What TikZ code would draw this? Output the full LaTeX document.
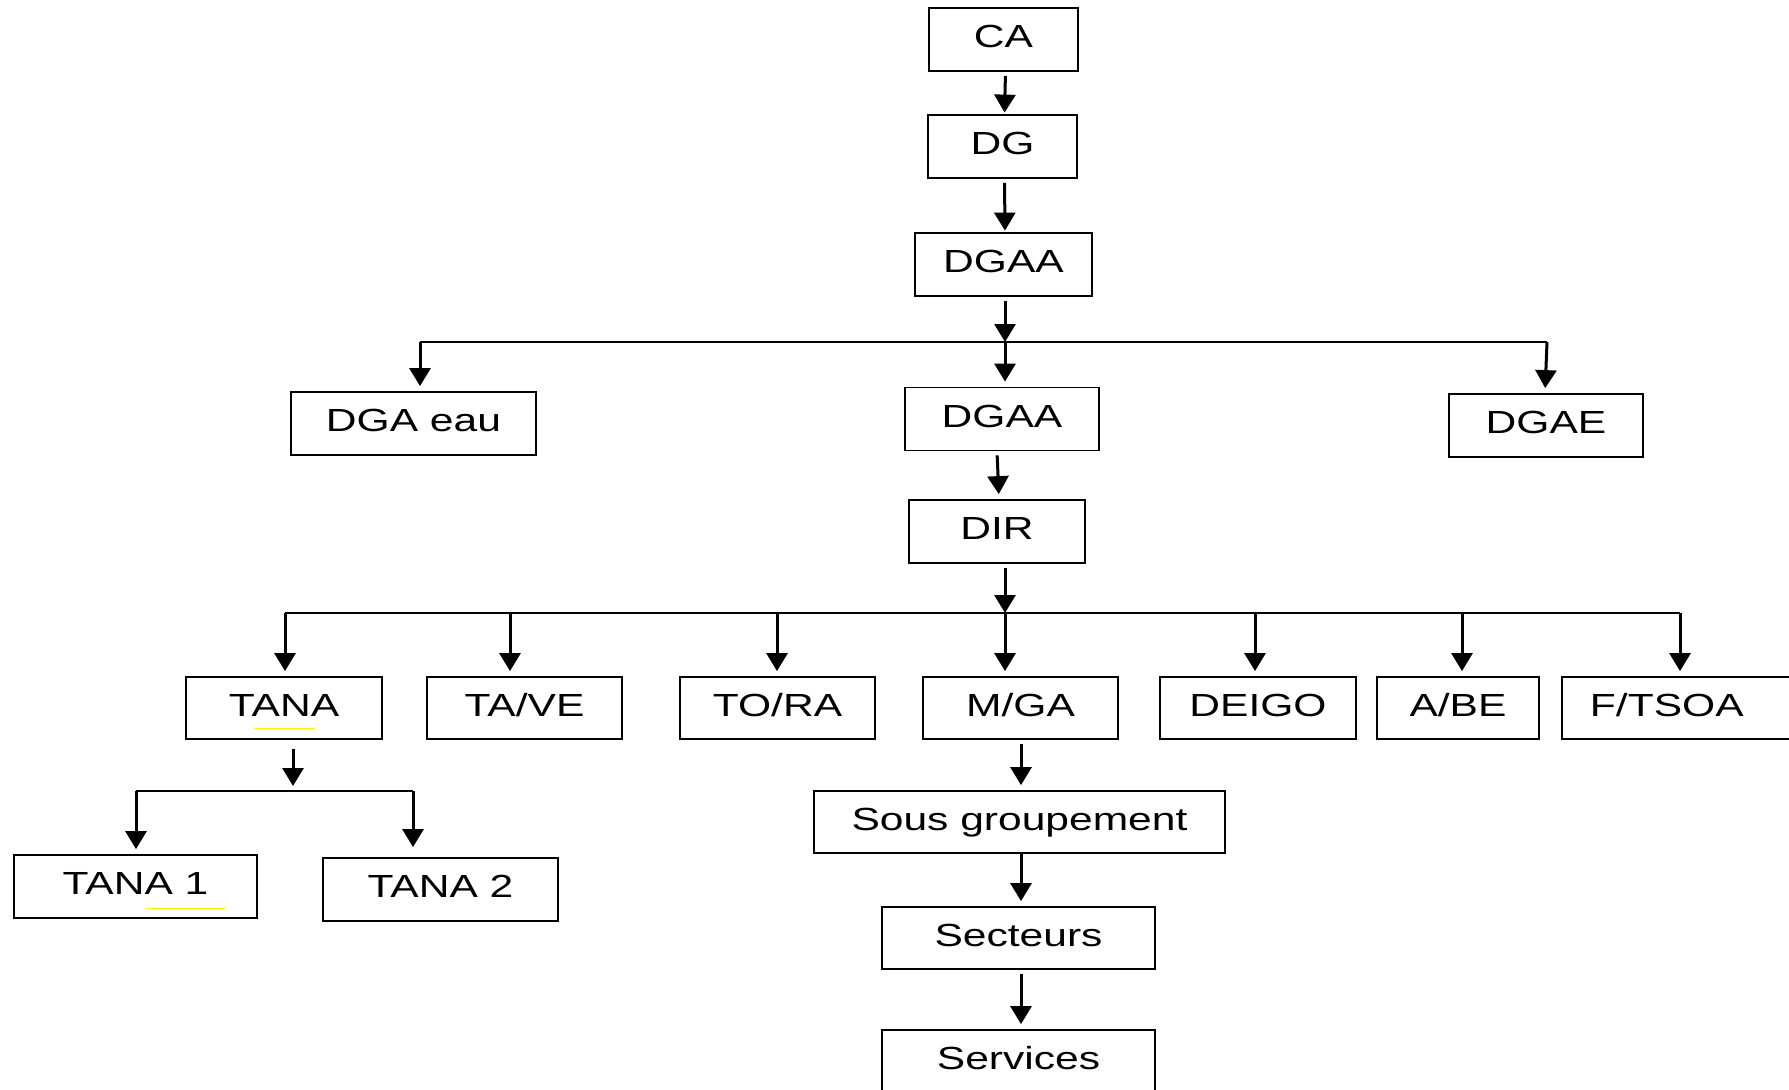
\documentclass[tikz,border=0pt]{standalone}
\usepackage{fontspec}
\setmainfont[FakeStretch=1.33]{Liberation Sans}
\usetikzlibrary{arrows.meta}

\begin{document}
\begin{tikzpicture}[
	x=1pt, y=-1pt,
	box/.style={draw, line width=1.8pt, inner sep=0pt, minimum height=63pt,
		text height=23pt, text depth=7pt, font=\fontsize{32}{36}\selectfont},
	arr/.style={line width=3pt, -{Triangle[width=21pt,length=18pt]},
		shorten <=4pt, shorten >=5pt},
	bus/.style={line width=2pt},
	hilite/.style={yellow, line width=1pt}]
\clip (0,0) rectangle (1789,1090);
\node[box, minimum width=149pt] (ca) at (1003.5,39.5) {CA};
\node[box, minimum width=149pt] (dg) at (1002.5,146.5) {DG};
\node[box, minimum width=177pt] (dgaa) at (1003.5,264.5) {DGAA};
\node[box, minimum width=245pt] (dgaeau) at (413.5,423.5) {DGA eau};
\node[box, minimum width=194pt] (dgaab) at (1002,419) {DGAA};
\node[box, minimum width=194pt] (dgae) at (1546,425.5) {DGAE};
\node[box, minimum width=176pt] (dir) at (997,531.5) {DIR};
\node[box, minimum width=196pt, minimum height=62pt] (tana) at (284,708) {TANA};
\node[box, minimum width=195pt, minimum height=62pt] (tave) at (524.5,708) {TA/VE};
\node[box, minimum width=195pt, minimum height=62pt] (tora) at (777.5,708) {TO/RA};
\node[box, minimum width=195pt, minimum height=62pt] (mga) at (1020.5,708) {M/GA};
\node[box, minimum width=196pt, minimum height=62pt] (deigo) at (1258,708) {DEIGO};
\node[box, minimum width=162pt, minimum height=62pt] (abe) at (1458,708) {A/BE};
\node[box, minimum height=62pt, anchor=west, inner xsep=28pt, text width=220pt,
	align=left] (ftsoa) at (1561,708) {F/TSOA};
\node[box, minimum width=243pt] (tanaa) at (135.5,886.5) {TANA 1};
\node[box, minimum width=235pt] (tanab) at (440.5,889.5) {TANA 2};
\node[box, minimum width=411pt, minimum height=62pt] (sous) at (1019.5,822) {Sous groupement};
\node[box, minimum width=273pt, minimum height=62pt] (sect) at (1018.5,938) {Secteurs};
\node[box, minimum width=273pt] (serv) at (1018.5,1061.5) {Services};

\draw[hilite] (254,728) -- (315,728);
\draw[hilite] (146,908) -- (225,908);

\draw[arr, shorten >=1.5pt] ([xshift=2pt]ca.south) -- ([xshift=2pt]dg.north);
\draw[arr, shorten >=1.5pt] ([xshift=2pt]dg.south) -- ([xshift=1.5pt]dgaa.north);

\coordinate (ja) at (1005,342);
\coordinate (jal) at (420,342);
\coordinate (jar) at (1547,342);
\draw[arr, shorten >=0pt] (dgaa.south -| ja) -- (ja);
\draw[bus] (jal) -- (jar);
\draw[arr, shorten <=0pt] (jal) -- (jal |- dgaeau.north);
\draw[arr, shorten <=0pt] (ja) -- (ja |- dgaab.north);
\draw[arr, shorten <=0pt] (jar) -- ([xshift=-2pt]jar |- dgae.north);
\draw[arr] ([xshift=-5pt]dgaab.south) -- ([xshift=2pt]dir.north);

\coordinate (jb) at (1005,613);
\draw[arr, shorten >=0pt] (dir.south -| jb) -- (jb);
\draw[bus] (285,613) -- (1680,613);
\foreach \x/\n [count=\i] in {285/tana,510/tave,777/tora,1005/mga,1255/deigo,1462/abe,1680/ftsoa}{
	\coordinate (b\i) at (\x,613);
	\draw[arr, shorten <=0pt] (b\i) -- (b\i |- \n.north);
}

\coordinate (jc) at (293,791);
\coordinate (jcl) at (136,791);
\coordinate (jcr) at (413,791);
\draw[arr, shorten <=9pt, shorten >=5pt] (tana.south -| jc) -- (jc);
\draw[bus] (jcl) -- (jcr);
\draw[arr, shorten <=0pt] (jcl) -- (jcl |- tanaa.north);
\draw[arr, shorten <=0pt, shorten >=10pt] (jcr) -- (jcr |- tanab.north);

\coordinate (jd) at (1021,0);
\draw[arr] (mga.south -| jd) -- (sous.north -| jd);
\draw[arr, shorten <=0pt] (sous.south -| jd) -- (sect.north -| jd);
\draw[arr] (sect.south -| jd) -- (serv.north -| jd);
\end{tikzpicture}
\end{document}
